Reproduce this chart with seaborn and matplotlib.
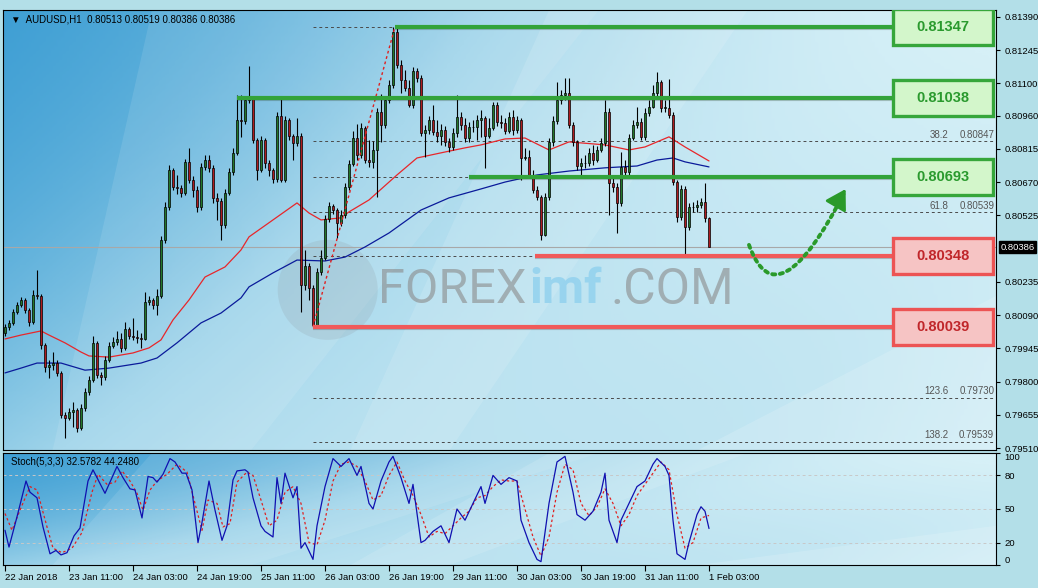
import numpy as np
import pandas as pd
import seaborn as sns
import matplotlib.pyplot as plt
import matplotlib.transforms as mtrans
from matplotlib.colors import LinearSegmentedColormap
from matplotlib.patches import Rectangle, Ellipse, FancyArrowPatch, Polygon
from matplotlib.path import Path

# ---- hourly candles, AUDUSD H1 ----
first_open = 0.80012
closes = [0.80038, 0.80056, 0.80104, 0.80134, 0.80156, 0.80112, 0.80060, 0.80178, 0.80173, 0.79960,
          0.79864, 0.79873, 0.79881, 0.79838, 0.79655, 0.79642, 0.79668, 0.79676, 0.79598, 0.79685,
          0.79755, 0.79807, 0.79969, 0.79829, 0.79820, 0.79894, 0.79955, 0.79973, 0.79986, 0.79947,
          0.80030, 0.79999, 0.79995, 0.79990, 0.79988, 0.80147, 0.80156, 0.80134, 0.80173, 0.80418,
          0.80561, 0.80723, 0.80649, 0.80644, 0.80623, 0.80758, 0.80679, 0.80636, 0.80561, 0.80736,
          0.80766, 0.80732, 0.80601, 0.80588, 0.80483, 0.80623, 0.80714, 0.80797, 0.80941, 0.80936,
          0.81028, 0.81032, 0.80854, 0.80723, 0.80854, 0.80753, 0.80723, 0.80684, 0.80958, 0.80679,
          0.80941, 0.80871, 0.80841, 0.80871, 0.80221, 0.80304, 0.80208, 0.80047, 0.80278, 0.80339,
          0.80509, 0.80566, 0.80548, 0.80492, 0.80527, 0.80649, 0.80749, 0.80862, 0.80788, 0.80906,
          0.80766, 0.80758, 0.80810, 0.80976, 0.80919, 0.81028, 0.81093, 0.81324, 0.81181, 0.81115,
          0.81080, 0.81006, 0.81154, 0.81124, 0.80884, 0.80897, 0.80941, 0.80888, 0.80871, 0.80897,
          0.80845, 0.80823, 0.80884, 0.80954, 0.80919, 0.80862, 0.80910, 0.80910, 0.80941, 0.80950,
          0.80871, 0.80906, 0.81006, 0.80932, 0.80928, 0.80893, 0.80954, 0.80897, 0.80941, 0.80775,
          0.80779, 0.80701, 0.80636, 0.80605, 0.80439, 0.80605, 0.80845, 0.80936, 0.81028, 0.81050,
          0.81059, 0.80919, 0.80845, 0.80740, 0.80753, 0.80753, 0.80797, 0.80766, 0.80810, 0.80841,
          0.80976, 0.80666, 0.80649, 0.80579, 0.80736, 0.80714, 0.80862, 0.80919, 0.80932, 0.80867,
          0.80971, 0.80997, 0.81059, 0.81106, 0.80993, 0.80993, 0.80963, 0.80670, 0.80518, 0.80640,
          0.80474, 0.80561, 0.80561, 0.80570, 0.80583, 0.80513, 0.80386]
highs = [0.80051, 0.80069, 0.80117, 0.80147, 0.80169, 0.80165, 0.80121, 0.80200, 0.80287, 0.80182,
         0.79969, 0.79894, 0.79929, 0.79894, 0.79846, 0.79668, 0.79685, 0.79711, 0.79685, 0.79703,
         0.79772, 0.79825, 0.79999, 0.79977, 0.79842, 0.79912, 0.79973, 0.79995, 0.80021, 0.80012,
         0.80060, 0.80038, 0.80078, 0.80025, 0.80012, 0.80191, 0.80173, 0.80165, 0.80204, 0.80435,
         0.80583, 0.80745, 0.80732, 0.80701, 0.80657, 0.80771, 0.80819, 0.80697, 0.80653, 0.80753,
         0.80788, 0.80788, 0.80745, 0.80623, 0.80601, 0.80640, 0.80732, 0.80819, 0.81050, 0.81050,
         0.81045, 0.81176, 0.81041, 0.80862, 0.80871, 0.80862, 0.80766, 0.80732, 0.80976, 0.81045,
         0.80958, 0.80950, 0.80880, 0.80950, 0.80884, 0.80374, 0.80317, 0.80221, 0.80296, 0.80374,
         0.80527, 0.80583, 0.80575, 0.80557, 0.80548, 0.80666, 0.80766, 0.80893, 0.80923, 0.80928,
         0.80915, 0.80854, 0.80849, 0.80993, 0.81054, 0.81045, 0.81115, 0.81347, 0.81342, 0.81202,
         0.81159, 0.81115, 0.81172, 0.81168, 0.81137, 0.80919, 0.80958, 0.81006, 0.80941, 0.80923,
         0.80915, 0.80862, 0.80906, 0.81050, 0.80976, 0.80950, 0.80932, 0.80941, 0.80963, 0.80984,
         0.80958, 0.80950, 0.81019, 0.81019, 0.80963, 0.80950, 0.80976, 0.80984, 0.80958, 0.80950,
         0.80819, 0.80810, 0.80723, 0.80653, 0.80614, 0.80623, 0.80862, 0.80958, 0.81106, 0.81072,
         0.81124, 0.81124, 0.80932, 0.80854, 0.80775, 0.80788, 0.80819, 0.80832, 0.80827, 0.80862,
         0.81028, 0.80993, 0.80688, 0.80666, 0.80801, 0.80766, 0.80880, 0.80941, 0.80997, 0.80950,
         0.80993, 0.81028, 0.81093, 0.81150, 0.81115, 0.81028, 0.81120, 0.80976, 0.80679, 0.80657,
         0.80653, 0.80579, 0.80583, 0.80592, 0.80601, 0.80666, 0.80519]
lows = [0.79999, 0.80025, 0.80047, 0.80095, 0.80125, 0.80099, 0.80043, 0.80051, 0.80160, 0.79942,
        0.79842, 0.79816, 0.79851, 0.79825, 0.79642, 0.79554, 0.79633, 0.79602, 0.79580, 0.79589,
        0.79672, 0.79742, 0.79798, 0.79816, 0.79785, 0.79807, 0.79886, 0.79947, 0.79960, 0.79929,
        0.79938, 0.79986, 0.79982, 0.79969, 0.79947, 0.79982, 0.80134, 0.80117, 0.80091, 0.80165,
        0.80405, 0.80548, 0.80636, 0.80618, 0.80605, 0.80614, 0.80666, 0.80605, 0.80540, 0.80548,
        0.80723, 0.80714, 0.80579, 0.80505, 0.80418, 0.80470, 0.80614, 0.80701, 0.80788, 0.80867,
        0.80923, 0.81015, 0.80841, 0.80679, 0.80714, 0.80732, 0.80697, 0.80666, 0.80670, 0.80670,
        0.80670, 0.80854, 0.80766, 0.80827, 0.80104, 0.80200, 0.80156, 0.80039, 0.80045, 0.80265,
        0.80330, 0.80496, 0.80531, 0.80426, 0.80479, 0.80514, 0.80636, 0.80740, 0.80766, 0.80775,
        0.80753, 0.80736, 0.80732, 0.80605, 0.80845, 0.80906, 0.81015, 0.81080, 0.81168, 0.81059,
        0.81067, 0.80997, 0.80993, 0.81106, 0.80871, 0.80779, 0.80880, 0.80875, 0.80845, 0.80832,
        0.80827, 0.80801, 0.80810, 0.80867, 0.80897, 0.80845, 0.80845, 0.80888, 0.80854, 0.80867,
        0.80732, 0.80862, 0.80897, 0.80915, 0.80906, 0.80880, 0.80884, 0.80875, 0.80884, 0.80679,
        0.80766, 0.80688, 0.80623, 0.80592, 0.80418, 0.80435, 0.80592, 0.80827, 0.80923, 0.81011,
        0.81028, 0.80906, 0.80827, 0.80723, 0.80701, 0.80732, 0.80740, 0.80745, 0.80758, 0.80801,
        0.80827, 0.80527, 0.80627, 0.80448, 0.80566, 0.80697, 0.80701, 0.80854, 0.80906, 0.80854,
        0.80854, 0.80958, 0.80993, 0.81045, 0.80976, 0.80976, 0.80950, 0.80657, 0.80496, 0.80505,
        0.80343, 0.80461, 0.80540, 0.80540, 0.80557, 0.80496, 0.80386]

# moving averages (red fast, blue slow), sampled along the lines
red_ma_pos = [0, 4, 9, 11, 15, 19, 21, 26, 32, 36, 39, 42, 46, 50, 55, 59, 61, 67, 73, 76,
              79, 84, 86, 91, 98, 103, 110, 115, 119, 125, 130, 136, 141, 150, 156, 160, 166, 170, 176]
red_ma = [0.79986, 0.80003, 0.80021, 0.80003, 0.79969, 0.79929, 0.79912, 0.79907, 0.79925, 0.79947,
          0.79982, 0.80069, 0.80156, 0.80256, 0.80300, 0.80374, 0.80431, 0.80505, 0.80579, 0.80535,
          0.80505, 0.80514, 0.80540, 0.80592, 0.80701, 0.80775, 0.80801, 0.80819, 0.80832, 0.80858,
          0.80862, 0.80810, 0.80845, 0.80832, 0.80810, 0.80823, 0.80867, 0.80823, 0.80762]
blue_ma_pos = [0, 4, 8, 14, 20, 26, 34, 38, 43, 49, 54, 59, 61, 67, 73, 80, 85, 90, 96, 104,
               111, 119, 125, 133, 141, 150, 158, 163, 167, 170, 176]
blue_ma = [0.79838, 0.79859, 0.79881, 0.79881, 0.79850, 0.79859, 0.79881, 0.79903, 0.79969, 0.80056,
           0.80099, 0.80165, 0.80213, 0.80274, 0.80330, 0.80326, 0.80343, 0.80387, 0.80448, 0.80548,
           0.80601, 0.80640, 0.80670, 0.80701, 0.80718, 0.80732, 0.80740, 0.80766, 0.80775, 0.80758,
           0.80736]

# stochastic (5,3,3)
k_pos = [0, 1, 3, 5.25, 6.25, 8, 9.5, 11.25, 12.75, 14, 15.5, 17.25, 18.75, 20.75, 22, 25, 28, 29.5,
         31.25, 32.5, 34.25, 35.75, 37, 38, 39.5, 41.25, 42.5, 44.25, 45.25, 46.75, 48.25, 49.25, 51,
         52.5, 54.25, 55.5, 57, 58, 60, 60.75, 62, 64, 65, 67, 68, 69, 70, 72, 73, 74, 75, 77, 78, 80,
         82, 84, 86, 88, 89, 91, 92, 94, 96, 97, 99, 101, 102, 104, 105, 107, 109, 111, 113, 115, 117,
         119, 120, 122, 124, 126, 128, 129, 131, 133, 134, 136, 138, 140, 142, 143, 145, 147, 149, 150,
         151, 153, 154, 156, 158, 160, 162, 163, 165, 166, 167, 168, 170, 171, 173, 174, 175, 176]
k_vals = [31, 16, 43, 75, 65, 60, 34, 10, 13, 9, 11, 26, 33, 75, 85, 64, 88, 78, 68, 67,
          42, 79, 78, 74, 81, 95, 92, 82, 82, 67, 20, 38, 75, 49, 22, 35, 76, 84, 85, 83,
          60, 35, 30, 25, 78, 55, 82, 60, 70, 15, 20, 5, 35, 70, 95, 88, 95, 80, 88, 55,
          50, 75, 92, 97, 78, 55, 72, 20, 22, 30, 35, 20, 50, 40, 55, 70, 55, 80, 72, 78,
          75, 40, 20, 5, 3, 55, 92, 97, 65, 45, 40, 48, 65, 82, 40, 20, 40, 55, 70, 75,
          90, 95, 88, 80, 40, 10, 5, 20, 45, 52, 48, 32.58]
d_pos = [0, 1.75, 3.75, 6.25, 8, 10.5, 12, 14.25, 16.75, 19.25, 21.75, 23.25, 25.5, 27.5, 29.25,
         31.25, 33, 34.5, 36.25, 38, 40.5, 43, 45.5, 47.5, 49.25, 50.75, 53, 54.5, 56.25, 58, 60.5,
         62, 64, 66, 68, 70, 72, 74, 76, 78, 80, 82, 84, 86, 88, 90, 92, 94, 96, 98, 100, 102, 104,
         106, 108, 110, 112, 114, 116, 118, 120, 122, 124, 126, 128, 130, 132, 134, 136, 138, 140,
         142, 144, 146, 148, 150, 152, 154, 156, 158, 160, 162, 164, 166, 168, 170, 172, 174, 176]
d_vals = [46, 31, 49, 70, 67, 34, 15, 11, 15, 29, 65, 81, 72, 74, 84, 75, 64, 49, 67, 75,
          81, 90, 83, 55, 31, 58, 55, 34, 37, 74, 83,
          80, 58, 35, 40, 65, 70, 55, 20, 18, 40, 75, 90, 92, 88, 75, 58, 62, 80, 92, 75,
          62, 45, 25, 30, 28, 35, 42, 48, 60, 62, 70, 76, 75, 75, 50, 25, 8, 25, 65, 90,
          85, 55, 44, 52, 68, 55, 35, 45, 62, 72, 82, 92, 85, 45, 15, 20, 42, 44.25]

# levels
green_levels = [0.81347, 0.81038, 0.80693]
green_starts = [97.5, 58, 116]
red_levels = [0.80348, 0.80039]
red_starts = [132.5, 77]
fib_levels = [0.81347, 0.81038, 0.80847, 0.80693, 0.80539, 0.80348, 0.80039, 0.79730, 0.79539]
fib_shown = {"38.2": 0.80847, "61.8": 0.80539, "123.6": 0.79730, "138.2": 0.79539}
price_ticks = [0.81390, 0.81245, 0.81100, 0.80960, 0.80815, 0.80670, 0.80525,
               0.80235, 0.80090, 0.79945, 0.79800, 0.79655, 0.79510]
last_price = 0.80386
date_ticks = [0, 16, 32, 48, 64, 80, 96, 112, 128, 144, 160, 176]
date_labels = ["22 Jan 2018", "23 Jan 11:00", "24 Jan 03:00", "24 Jan 19:00", "25 Jan 11:00",
               "26 Jan 03:00", "26 Jan 19:00", "29 Jan 11:00", "30 Jan 03:00", "30 Jan 19:00",
               "31 Jan 11:00", "1 Feb 03:00"]

sns.set_theme(style="white")
plt.rcParams["font.family"] = ["Liberation Sans", "DejaVu Sans"]

W, H = 1038, 588
fig = plt.figure(figsize=(W / 100, H / 100), dpi=100, facecolor="#b3dfe8")
ax = fig.add_axes([3 / W, 1 - 450 / H, 993 / W, 440 / H])
ax2 = fig.add_axes([3 / W, 1 - 565 / H, 993 / W, 112 / H], sharex=ax)

bg_cmap = LinearSegmentedColormap.from_list("bg", ["#d6f0f7", "#9fd4ea", "#3f9fd4"])


def paint_bg(a):
    xs = np.linspace(0, 1, 300)
    ys = np.linspace(0, 1, 150)
    X, Y = np.meshgrid(xs, ys)
    shade = np.clip((1 - X) ** 1.1 * (1 - 0.45 * Y) + 0.08 * np.sin(6 * X + 3 * Y), 0, 1)
    a.imshow(shade, cmap=bg_cmap, extent=[0, 1, 0, 1], transform=a.transAxes,
             aspect="auto", zorder=0, vmin=0, vmax=1)
    for pts, al in [([(0.15, 1), (0.6, 1), (0.25, 0.0), (0.05, 0.0)], 0.10),
                    ([(0.55, 1), (0.75, 1), (0.45, 0.0), (0.35, 0.0)], 0.12),
                    ([(0.7, 0.0), (1, 0.35), (1, 0.0)], 0.15)]:
        a.add_patch(Polygon(pts, closed=True, transform=a.transAxes, facecolor="white",
                            alpha=al, edgecolor="none", zorder=0.5))


paint_bg(ax)
paint_bg(ax2)

x = np.arange(len(closes))
opens = np.array([first_open] + closes[:-1])
c = np.array(closes)
up = c >= opens
ax.vlines(x, lows, highs, color="black", lw=0.8, zorder=3)
body_h = np.maximum(np.abs(c - opens), 0.00002)
ax.bar(x, body_h, bottom=np.minimum(c, opens), width=0.72,
       color=np.where(up, "#23772a", "#ad1c20"), edgecolor="black", linewidth=0.5, zorder=4)

ma = pd.DataFrame({"bar": red_ma_pos, "price": red_ma})
sns.lineplot(data=ma, x="bar", y="price", ax=ax, color="#e8262a", lw=0.9, zorder=2)
ma2 = pd.DataFrame({"bar": blue_ma_pos, "price": blue_ma})
sns.lineplot(data=ma2, x="bar", y="price", ax=ax, color="#0a1a9a", lw=0.9, zorder=2)

xmin, xmax = -0.5, 247.75
ax.set_xlim(xmin, xmax)
ax.set_ylim(0.79502, 0.81420)

# current price line
ax.axhline(last_price, color="#a8a8a8", lw=0.8, zorder=1.5)

# fibonacci dashes
for lv in fib_levels:
    ax.hlines(lv, 77, xmax, color="#4a4a4a", lw=0.7, linestyles=(0, (3, 3)), zorder=1.6)
for name, lv in fib_shown.items():
    ax.text(235.8, lv + 0.00006, name, ha="right", va="bottom", fontsize=7, color="#555555", zorder=2)
    ax.text(247.3, lv + 0.00006, f"{lv:.5f}", ha="right", va="bottom", fontsize=7, color="#555555", zorder=2)
ax.plot([77, 97.5], [0.80039, 0.81347], color="#e02020", lw=1.0, ls=(0, (2, 2)), zorder=5)

# watermark
wm = dict(transform=ax.transAxes, zorder=1.2, va="center", family=["Roboto", "DejaVu Sans"])
ax.add_patch(Ellipse((0.327, 0.364), 100 / 993, 100 / 440, transform=ax.transAxes,
                     facecolor="#8d989e", alpha=0.2, edgecolor="none", zorder=1.2))
ax.text(0.378, 0.364, "FOREX", fontsize=35, color="#8a8a8a", alpha=0.6, **wm)
ax.text(0.530, 0.364, "imf", fontsize=35, color="#8fd0ee", alpha=0.8, weight="bold", **wm)
ax.text(0.612, 0.364, ".COM", fontsize=36, color="#8a8a8a", alpha=0.6, **wm)

# key levels with boxes
bx0, bx1, bh = 222.0, 247.0, 0.00078
for lv, st in zip(green_levels, green_starts):
    ax.plot([st, bx0], [lv - 0.00006, lv - 0.00006], color="#333333", lw=3, alpha=0.25, zorder=5,
            solid_capstyle="butt")
    ax.plot([st, bx0], [lv, lv], color="#33a33a", lw=3, zorder=6, solid_capstyle="butt")
    ax.add_patch(Rectangle((bx0, lv - bh), bx1 - bx0, 2 * bh, facecolor="#d3f6cb",
                           edgecolor="#36a63b", lw=2.4, zorder=7))
    ax.text((bx0 + bx1) / 2, lv, f"{lv:.5f}", ha="center", va="center", fontsize=10.5,
            weight="bold", color="#2a9a2e", zorder=8)
for lv, st in zip(red_levels, red_starts):
    ax.plot([st, bx0], [lv - 0.00006, lv - 0.00006], color="#333333", lw=3, alpha=0.25, zorder=5,
            solid_capstyle="butt")
    ax.plot([st, bx0], [lv, lv], color="#f05a5a", lw=3, zorder=6, solid_capstyle="butt")
    ax.add_patch(Rectangle((bx0, lv - bh), bx1 - bx0, 2 * bh, facecolor="#f6c4c4",
                           edgecolor="#ec5454", lw=2.4, zorder=7))
    ax.text((bx0 + bx1) / 2, lv, f"{lv:.5f}", ha="center", va="center", fontsize=10.5,
            weight="bold", color="#c0262a", zorder=8)

# projected path arrow
curve = Path([(186, 0.80396), (193, 0.80050), (210, 0.80630)], [Path.MOVETO, Path.CURVE3, Path.CURVE3])
ax.add_patch(FancyArrowPatch(path=curve, arrowstyle="-", color="#2a9a2a", lw=2.8,
                             linestyle=(0, (0.8, 1.2)), zorder=7))
ax.annotate("", xy=(210.5, 0.80650), xytext=(207.5, 0.80560),
            arrowprops=dict(arrowstyle="-|>,head_length=1.0,head_width=0.6", color="#2a9a2a", lw=2),
            zorder=7)

# price axis on the right
ax.yaxis.tick_right()
ax.set_yticks(price_ticks)
ax.set_yticklabels([f"{t:.5f}" for t in price_ticks])
ax.tick_params(axis="y", right=True, length=3, width=0.8, pad=3, labelsize=6.8, colors="black")
ax.tick_params(axis="x", bottom=False, labelbottom=False)
ax.set_xlabel("")
ax.set_ylabel("")
blend = mtrans.blended_transform_factory(ax.transAxes, ax.transData)
ax.text(1.0045, last_price, f"{last_price:.5f}", transform=blend, ha="left", va="center",
        fontsize=6.8, color="white", bbox=dict(boxstyle="square,pad=0.15", fc="black", ec="black"),
        clip_on=False, zorder=9)
ax.text(0.008, 0.99, "\u25bc  AUDUSD,H1  0.80513 0.80519 0.80386 0.80386", transform=ax.transAxes,
        ha="left", va="top", fontsize=7, color="black", zorder=9)

# stochastic panel
st_k = pd.DataFrame({"bar": k_pos, "value": k_vals})
st_d = pd.DataFrame({"bar": d_pos, "value": d_vals})
for lv in [20, 50, 80]:
    ax2.axhline(lv, color="#c8c8c8", lw=0.7, ls=(0, (3, 3)), zorder=1)
sns.lineplot(data=st_d, x="bar", y="value", ax=ax2, color="#e02020", lw=0.9,
             linestyle=(0, (2, 2)), zorder=3)
sns.lineplot(data=st_k, x="bar", y="value", ax=ax2, color="#1010b0", lw=0.9, zorder=4)
ax2.set_ylim(0, 100)
ax2.set_xlim(xmin, xmax)
ax2.yaxis.tick_right()
ax2.set_yticks([0, 20, 50, 80, 100])
ax2.set_yticklabels(["0", "20", "50", "80", "100"])
ax2.tick_params(axis="y", right=True, length=3, width=0.8, pad=3, labelsize=6.8, colors="black")
ylabs = ax2.get_yticklabels()
ylabs[0].set_va("bottom")
ylabs[-1].set_va("top")
ax2.set_xticks(date_ticks)
ax2.set_xticklabels(date_labels)
ax2.tick_params(axis="x", bottom=True, length=4, width=0.8, pad=2, labelsize=6.8, colors="black")
for lab in ax2.get_xticklabels():
    lab.set_ha("left")
ax2.set_xlabel("")
ax2.set_ylabel("")
ax2.text(0.008, 0.96, "Stoch(5,3,3) 32.5782 44.2480", transform=ax2.transAxes, ha="left",
         va="top", fontsize=7, color="black", zorder=9)

for a in (ax, ax2):
    for sp in a.spines.values():
        sp.set_color("black")
        sp.set_linewidth(0.8)

fig.savefig("out.png", dpi=100, facecolor=fig.get_facecolor())
